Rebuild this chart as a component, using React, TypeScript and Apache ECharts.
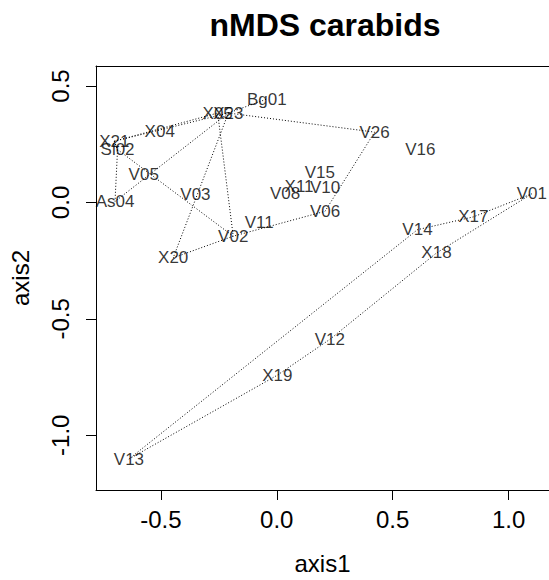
import React, { useEffect, useRef } from "react";
import * as echarts from "echarts";

// nMDS site scores (axis1, axis2)
const siteNames = [
  "Bg01", "X05", "X23", "X04", "X21", "Sl02", "V05", "As04", "V03", "V08",
  "X11", "V10", "V15", "V06", "V11", "V02", "X20", "V26", "V16", "V01",
  "X17", "V14", "X18", "V12", "X19", "V13",
];
const axis1 = [
  -0.043, -0.255, -0.209, -0.505, -0.701, -0.687, -0.574, -0.698, -0.351, 0.036,
  0.096, 0.208, 0.186, 0.208, -0.076, -0.188, -0.447, 0.422, 0.619, 1.1,
  0.848, 0.607, 0.689, 0.229, 0.002, -0.638,
];
const axis2 = [
  0.444, 0.384, 0.384, 0.304, 0.263, 0.227, 0.119, 0.004, 0.033, 0.037,
  0.067, 0.063, 0.13, -0.038, -0.088, -0.145, -0.238, 0.302, 0.226, 0.037,
  -0.062, -0.117, -0.217, -0.588, -0.742, -1.102,
];

// convex hulls (ordihull), listed by site name
const hullA = ["X21", "X05", "V02", "Sl02"];
const hullB = ["X21", "X23", "As04", "Sl02"];
const hullC = ["X23", "V26", "V06", "V02", "X20"];
const hullD = ["X23", "Bg01"];
const hullE = ["V13", "X19", "V12", "X18", "V01", "X17", "V14"];
const hulls = [hullA, hullB, hullC, hullD, hullE];

const xTicks = [-0.5, 0, 0.5, 1.0];
const yTicks = [-1.0, -0.5, 0, 0.5];

const FONT = "'Liberation Sans', Arial, sans-serif";

export default function App() {
  const ref = useRef<HTMLDivElement>(null);

  useEffect(() => {
    if (!ref.current) return;
    const chart = echarts.init(ref.current, undefined, { renderer: "svg" });

    const coord = (name: string) => {
      const i = siteNames.indexOf(name);
      return [axis1[i], axis2[i]];
    };

    const hullSeries = hulls.map((h) => ({
      type: "line",
      silent: true,
      symbol: "none",
      z: 1,
      data: h.concat(h.length > 2 ? [h[0]] : []).map(coord),
      lineStyle: { color: "#000", width: 1, type: [1, 2] },
    }));

    const XMIN = -0.78;
    const XMAX = 1.1744;

    const option: any = {
      animation: false,
      title: {
        text: "nMDS carabids",
        left: 320,
        top: 4,
        textAlign: "center",
        textStyle: { fontFamily: FONT, fontSize: 32, fontWeight: "bold", color: "#000" },
      },
      grid: {
        left: 96,
        top: 66,
        width: 455,
        height: 425,
        show: false,
      },
      xAxis: [
        {
          type: "value",
          min: XMIN,
          max: XMAX,
          position: "bottom",
          splitLine: { show: false },
          axisLine: { show: true, onZero: false, lineStyle: { color: "#000", width: 1 } },
          axisTick: {
            show: true,
            length: 10,
            inside: false,
            customValues: xTicks,
            lineStyle: { color: "#000", width: 1 },
          },
          axisLabel: {
            customValues: xTicks,
            formatter: (v: number) => v.toFixed(1),
            fontFamily: FONT,
            fontSize: 24,
            color: "#000",
            margin: 17,
          },
          name: "axis1",
          nameLocation: "middle",
          nameGap: 61,
          nameTextStyle: { fontFamily: FONT, fontSize: 24, color: "#000" },
        },
        {
          type: "value",
          min: XMIN,
          max: XMAX,
          position: "top",
          splitLine: { show: false },
          axisLine: { show: true, onZero: false, lineStyle: { color: "#000", width: 1 } },
          axisTick: { show: false },
          axisLabel: { show: false },
        },
      ],
      yAxis: {
        type: "value",
        min: -1.235,
        max: 0.586,
        splitLine: { show: false },
        axisLine: { show: true, onZero: false, lineStyle: { color: "#000", width: 1 } },
        axisTick: {
          show: true,
          length: 10,
          inside: false,
          customValues: yTicks,
          lineStyle: { color: "#000", width: 1 },
        },
        axisLabel: {
          customValues: yTicks,
          formatter: (v: number) => v.toFixed(1),
          fontFamily: FONT,
          fontSize: 24,
          color: "#000",
          rotate: 90,
          margin: 24,
        },
        name: "axis2",
        nameLocation: "middle",
        nameGap: 64,
        nameRotate: 90,
        nameTextStyle: { fontFamily: FONT, fontSize: 24, color: "#000" },
      },
      series: [
        ...hullSeries,
        {
          type: "scatter",
          silent: true,
          z: 2,
          symbol: "circle",
          symbolSize: 1,
          itemStyle: { color: "transparent" },
          data: siteNames.map((n, i) => ({ name: n, value: [axis1[i], axis2[i]] })),
          label: {
            show: true,
            position: "inside",
            formatter: "{b}",
            fontFamily: FONT,
            fontSize: 17,
            color: "#000",
            align: "center",
            verticalAlign: "middle",
          },
        },
      ],
    };

    chart.setOption(option);
    return () => chart.dispose();
  }, []);

  return (
    <div
      ref={ref}
      style={{ position: "absolute", left: 0, top: 0, width: 549, height: 580, background: "#fff" }}
    />
  );
}
